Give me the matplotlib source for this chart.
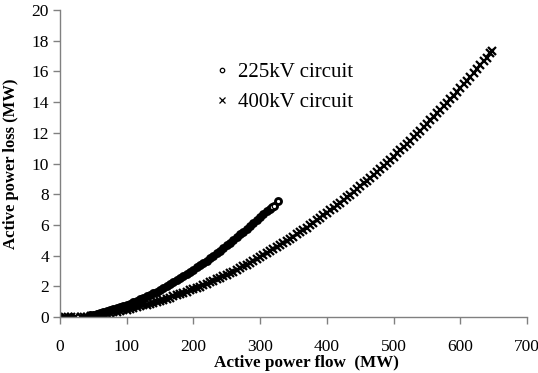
import matplotlib
matplotlib.use("Agg")
from matplotlib import pyplot as plt
from matplotlib.lines import Line2D

# 225 kV circuit: active power flow (MW) vs loss (MW)
flow_225 = [0, 45, 50, 55, 60, 65, 70, 75, 80, 85, 90, 95, 100, 105, 110, 115,
            120, 125, 130, 135, 140, 145, 150, 155, 160, 165, 170, 175, 180,
            185, 190, 195, 200, 205, 210, 215, 220, 225, 230, 235, 240, 245,
            250, 255, 260, 265, 270, 275, 280, 285, 290, 295, 300, 305, 310,
            315, 318, 321, 327]
loss_225 = [0.02, 0.12, 0.16, 0.21, 0.25, 0.30, 0.36, 0.43, 0.49, 0.56, 0.63,
            0.72, 0.80, 0.87, 0.97, 1.05, 1.15, 1.24, 1.35, 1.44, 1.56, 1.66,
            1.78, 1.89, 2.02, 2.13, 2.27, 2.39, 2.53, 2.66, 2.81, 2.95, 3.09,
            3.23, 3.38, 3.53, 3.68, 3.84, 3.99, 4.15, 4.31, 4.48, 4.66, 4.83,
            5.01, 5.19, 5.38, 5.57, 5.76, 5.95, 6.15, 6.33, 6.52, 6.70, 6.88,
            7.03, 7.16, 7.22, 7.56]

# 400 kV circuit
flow_400 = [7, 12, 17, 22, 31, 36, 41, 46, 51, 55, 60, 65, 70, 75, 80, 85, 90,
            95, 100, 105, 110, 115, 120, 125, 130, 135, 140, 145, 150, 155,
            160, 165, 170, 175, 180, 185, 190, 195, 200, 205, 210, 215, 220,
            225, 230, 235, 240, 245, 250, 255, 260, 265, 270, 275, 280, 285,
            290, 295, 300, 305, 310, 315, 320, 325, 330, 335, 340, 345, 350,
            355, 360, 365, 370, 375, 380, 385, 390, 395, 400, 405, 410, 415,
            420, 425, 430, 435, 440, 445, 450, 455, 460, 465, 470, 475, 480,
            485, 490, 495, 500, 505, 510, 515, 520, 525, 530, 535, 540, 545,
            550, 555, 560, 565, 570, 575, 580, 585, 590, 595, 600, 605, 610,
            615, 620, 625, 630, 635, 640, 645, 648]
loss_400 = [0.0, 0.0, 0.0, 0.0, 0.02, 0.02, 0.03, 0.04, 0.05, 0.08, 0.12, 0.16,
            0.20, 0.24, 0.30, 0.34, 0.39, 0.43, 0.48, 0.53, 0.59, 0.64, 0.70,
            0.76, 0.81, 0.88, 0.93, 1.00, 1.06, 1.12, 1.20, 1.26, 1.34, 1.41,
            1.48, 1.57, 1.64, 1.73, 1.80, 1.90, 1.98, 2.08, 2.16, 2.26, 2.35,
            2.45, 2.54, 2.65, 2.75, 2.86, 2.96, 3.08, 3.18, 3.31, 3.41, 3.54,
            3.65, 3.78, 3.89, 4.03, 4.14, 4.28, 4.41, 4.55, 4.67, 4.82, 4.95,
            5.10, 5.23, 5.39, 5.53, 5.68, 5.82, 5.99, 6.13, 6.30, 6.45, 6.62,
            6.77, 6.95, 7.10, 7.28, 7.44, 7.63, 7.79, 7.98, 8.14, 8.34, 8.51,
            8.70, 8.88, 9.08, 9.26, 9.46, 9.64, 9.85, 10.04, 10.25, 10.44,
            10.66, 10.85, 11.07, 11.27, 11.49, 11.70, 11.92, 12.13, 12.36,
            12.57, 12.81, 13.02, 13.26, 13.48, 13.72, 13.94, 14.19, 14.42,
            14.67, 14.90, 15.15, 15.39, 15.65, 15.89, 16.15, 16.39, 16.66,
            16.90, 17.17, 17.33]

plt.rcParams['font.family'] = ['Liberation Serif', 'DejaVu Serif']

fig = plt.figure(figsize=(5.38, 3.73), dpi=100)
ax = fig.add_axes([0.1115, 0.1501, 0.868, 0.823])

ax.plot(flow_400, loss_400, linestyle='none', marker='x', markersize=5.5,
        markeredgewidth=1.6, color='black')
ax.plot(flow_225, loss_225, linestyle='none', marker='o', markersize=4.8,
        markeredgewidth=1.6, markerfacecolor='black', markeredgecolor='black')
# the last few isolated points show as open circles
ax.plot(flow_225[-3:], loss_225[-3:], linestyle='none', marker='o',
        markersize=3.2, markeredgewidth=0.9, markerfacecolor='white',
        markeredgecolor='black')

ax.set_xlim(0, 700)
ax.set_ylim(0, 20)
ax.set_xticks(range(0, 701, 100))
ax.set_yticks(range(0, 21, 2))

for side in ['top', 'right']:
    ax.spines[side].set_visible(False)
for side in ['left', 'bottom']:
    ax.spines[side].set_color('#808080')
    ax.spines[side].set_linewidth(1.0)
ax.tick_params(axis='both', colors='#808080', labelcolor='black',
               labelsize=12.5, width=1.0, length=5, direction='out')
ax.tick_params(axis='x', pad=10.5)
ax.tick_params(axis='y', pad=3)

ax.set_xlabel('Active power flow  (MW)', fontsize=12.3, fontweight='bold')
ax.xaxis.set_label_coords(0.527, -0.125)
ax.set_ylabel('Active power loss (MW)', fontsize=12, fontweight='bold')
ax.yaxis.set_label_coords(-0.088, 0.5)

legend_handles = [
    Line2D([], [], linestyle='none', marker='o', markersize=3.2,
           markeredgewidth=0.9, markerfacecolor='white',
           markeredgecolor='black'),
    Line2D([], [], linestyle='none', marker='x', markersize=3.8,
           markeredgewidth=0.9, color='black'),
]
ax.legend(legend_handles, ['225kV circuit', '400kV circuit'], loc='upper left',
          bbox_to_anchor=(0.294, 0.89), frameon=False, fontsize=15,
          handlelength=0.6, handletextpad=0.45, labelspacing=0.5)

fig.savefig('out.png', dpi=100)
